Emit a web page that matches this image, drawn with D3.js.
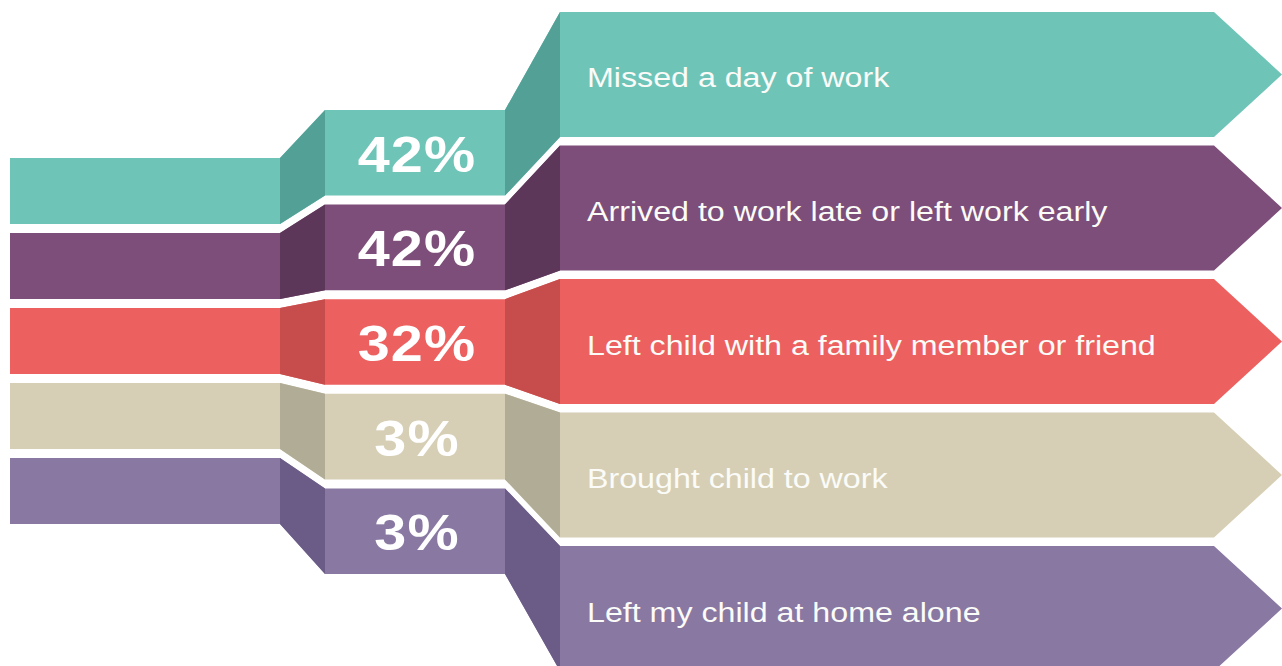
<!DOCTYPE html>
<html>
<head>
<meta charset="utf-8">
<script src="https://cdn.jsdelivr.net/npm/d3@7"></script>
<style>
  html, body { margin: 0; padding: 0; background: #fff; }
  svg { display: block; }
</style>
</head>
<body>
<div id="chart"></div>
<script>
(function() {
    const width = 1282, height = 666;

    // Données
    const categories = [
        "Missed a day of work",
        "Arrived to work late or left work early",
        "Left child with a family member or friend",
        "Brought child to work",
        "Left my child at home alone"
    ];
    const values = [42, 42, 32, 3, 3];
    const colors = ["#6fc4b8", "#7c4e79", "#ec6160", "#d6cfb5", "#8878a2"];
    const darkColors = ["#53a096", "#5d3759", "#c64d4b", "#b1ac96", "#6a5c87"];

    // Colonnes du ruban (gauche, pli, milieu, pli, flèche)
    const xs = {start: 10, leftEnd: 280, midStart: 325, midEnd: 505, rightStart: 560, shoulder: 1214, tip: 1282};

    // Échelles verticales pour chaque étage du ruban
    const yLeft = d3.scaleBand().domain(categories).range([158, 524]).paddingInner(0.12);
    const yMid = d3.scaleBand().domain(categories).range([110, 574]).paddingInner(0.095);
    const yRight = d3.scaleBand().domain(categories).range([12, 671]).paddingInner(0.064);

    const svg = d3.select("#chart")
        .append("svg")
        .attr("width", width)
        .attr("height", height);

    const line = d3.line();

    const data = categories.map((c, i) => ({
        label: c,
        value: values[i],
        color: colors[i],
        dark: darkColors[i],
        lt: yLeft(c), lb: yLeft(c) + yLeft.bandwidth(),
        mt: yMid(c), mb: yMid(c) + yMid.bandwidth(),
        rt: yRight(c), rb: yRight(c) + yRight.bandwidth()
    }));

    const bands = svg.selectAll(".band")
        .data(data)
        .join("g")
        .attr("class", "band");

    // Forme complète du ruban
    bands.append("path")
        .attr("fill", d => d.color)
        .attr("d", d => line([
            [xs.start, d.lt], [xs.leftEnd, d.lt], [xs.midStart, d.mt], [xs.midEnd, d.mt],
            [xs.rightStart, d.rt], [xs.shoulder, d.rt], [xs.tip, (d.rt + d.rb) / 2],
            [xs.shoulder, d.rb], [xs.rightStart, d.rb], [xs.midEnd, d.mb],
            [xs.midStart, d.mb], [xs.leftEnd, d.lb], [xs.start, d.lb]
        ]) + "Z");

    // Plis plus sombres
    bands.append("path")
        .attr("fill", d => d.dark)
        .attr("d", d => line([
            [xs.leftEnd, d.lt], [xs.midStart, d.mt], [xs.midStart, d.mb], [xs.leftEnd, d.lb]
        ]) + "Z");

    bands.append("path")
        .attr("fill", d => d.dark)
        .attr("d", d => line([
            [xs.midEnd, d.mt], [xs.rightStart, d.rt], [xs.rightStart, d.rb], [xs.midEnd, d.mb]
        ]) + "Z");

    // Pourcentages (police un peu étirée comme l'original)
    bands.append("text")
        .attr("transform", d => `translate(${(xs.midStart + xs.midEnd) / 2 + 2},${(d.mt + d.mb) / 2 + 19}) scale(1.15,1)`)
        .attr("text-anchor", "middle")
        .style("font-family", "'Liberation Sans', Arial, sans-serif")
        .style("font-weight", "bold")
        .style("font-size", "50px")
        .style("letter-spacing", "1px")
        .style("fill", "#fff")
        .text(d => d.value + "%");

    // Libellés
    bands.append("text")
        .attr("transform", d => `translate(587,${(d.rt + d.rb) / 2 + 13}) scale(1.15,1)`)
        .style("font-family", "'Liberation Sans', Arial, sans-serif")
        .style("font-size", "28px")
        .style("fill", "#fbfbf8")
        .text(d => d.label);
})();
</script>
</body>
</html>
